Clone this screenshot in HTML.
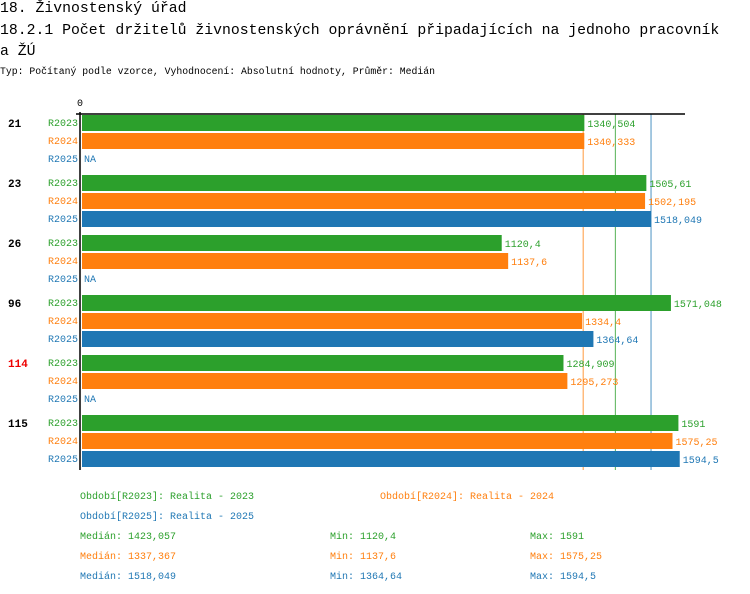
<!DOCTYPE html>
<html><head><meta charset="utf-8"><style>
body{margin:0;background:#fff;width:750px;height:594px;overflow:hidden;font-family:"Liberation Mono",monospace}
.t{position:absolute;left:0;white-space:nowrap;color:#000;line-height:1}
svg{position:absolute;left:0;top:0}
svg text{font-family:"Liberation Mono",monospace;font-size:10px}
</style></head><body>
<div class="t" style="top:2px;font-size:14.8px">18. Živnostenský úřad</div>
<div class="t" style="top:24px;font-size:14.8px">18.2.1 Počet držitelů živnostenských oprávnění připadajících na jednoho pracovník</div>
<div class="t" style="top:45px;font-size:14.8px">a ŽÚ</div>
<div class="t" style="top:67px;font-size:9.8px">Typ: Počítaný podle vzorce, Vyhodnocení: Absolutní hodnoty, Průměr: Medián</div>
<svg id="c" width="750" height="594"></svg>
<script>
const groups=["21","23","26","96","114","115"];
const series=["R2023","R2024","R2025"];
const v2023=[1340.504,1505.61,1120.4,1571.048,1284.909,1591];
const v2024=[1340.333,1502.195,1137.6,1334.4,1295.273,1575.25];
const v2025=[null,1518.049,null,1364.64,null,1594.5];
const medians=[1423.057,1337.367,1518.049];
const mins=["1120,4","1137,6","1364,64"];
const maxs=["1591","1575,25","1594,5"];
const medLabels=["1423,057","1337,367","1518,049"];
const colors=["#2ca02c","#ff7f0e","#1f77b4"];
const NS="http://www.w3.org/2000/svg";
const svg=document.getElementById('c');
const x0=81,k=0.3755;
const xs=v=>x0+v*k;
const ys=(g,s)=>115+g*60+s*18;
function el(t,a,p){const e=document.createElementNS(NS,t);for(const n in a)e.setAttribute(n,a[n]);(p||svg).appendChild(e);return e;}
function fmt(v){return String(v).replace('.',',');}
medians.forEach((m,i)=>{const l=el('line',{x1:xs(m),x2:xs(m),y1:114,y2:470,stroke:colors[i],'stroke-width':1,opacity:0.8});

});
const data=[v2023,v2024,v2025];
groups.forEach((g,gi)=>{
 const gt=el('text',{x:8,y:ys(gi,0)+12,'font-weight':'bold',fill:g=="114"?'#e00':'#000'});gt.textContent=g;gt.style.fontSize='11px';
 
 
 series.forEach((s,si)=>{
  const y=ys(gi,si);const v=data[si][gi];
  const st=el('text',{x:78,y:y+11,'text-anchor':'end',fill:colors[si]});st.textContent=s;
  
  
  if(v==null){const na=el('text',{x:84,y:y+11,fill:colors[si]});na.textContent='NA';
   
   return;}
  const r=el('rect',{x:82,y:y,width:xs(v)-82,height:16,fill:colors[si]});
  
  
  const vt=el('text',{x:xs(v)+3,y:y+12,fill:colors[si]});vt.textContent=fmt(v);
  
  
 });
});
const ax=el('line',{x1:76,x2:685,y1:114,y2:114,stroke:'#000','stroke-width':1.5});


const ay=el('line',{x1:80,x2:80,y1:112,y2:470,stroke:'#000','stroke-width':1.5});


const z=el('text',{x:77,y:106});z.textContent='0';


const leg=[[80,499,'Období[R2023]: Realita - 2023',0],[380,499,'Období[R2024]: Realita - 2024',1],[80,519,'Období[R2025]: Realita - 2025',2]];
leg.forEach(a=>{const t=el('text',{x:a[0],y:a[1],fill:colors[a[3]]});t.textContent=a[2];
 
 });
[0,1,2].forEach(i=>{const y=539+i*20;
 [[80,'Medián: '+medLabels[i]],[330,'Min: '+mins[i]],[530,'Max: '+maxs[i]]].forEach(c=>{
  const t=el('text',{x:c[0],y:y,fill:colors[i]});t.textContent=c[1];
  
  });
});
</script>
</body></html>
